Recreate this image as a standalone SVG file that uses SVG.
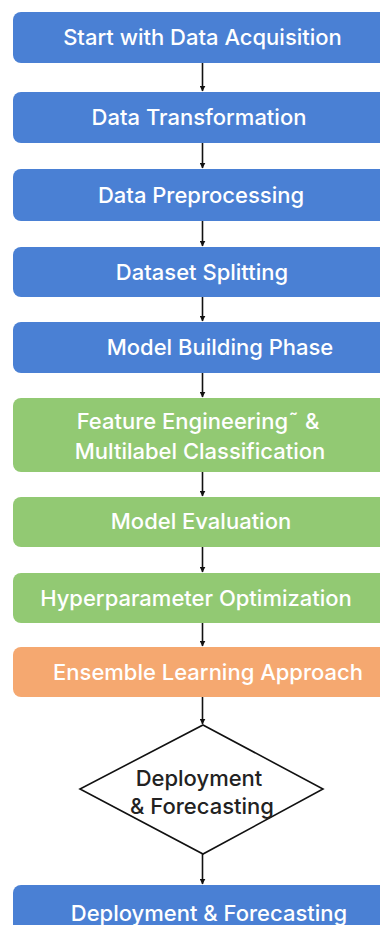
<svg xmlns="http://www.w3.org/2000/svg" width="380" height="925" viewBox="0 0 380 925">
  <defs>
    <marker id="arrow" viewBox="0 0 10 10" refX="9" refY="5" markerWidth="6" markerHeight="6" markerUnits="userSpaceOnUse" orient="auto">
      <path d="M0,0 L10,5 L0,10 z" fill="#111"/>
    </marker>
  </defs>
  <style>
    .box { stroke: none; }
    .blue { fill: #4a80d4; }
    .green { fill: #92c973; }
    .orange { fill: #f5a870; }
    .lbl { font-family: Inter, "Noto Sans", "DejaVu Sans", sans-serif; font-size: 22px; font-weight: 500; fill: #ffffff; text-anchor: middle; }
    .dlbl { font-family: Inter, "Noto Sans", "DejaVu Sans", sans-serif; font-size: 22px; font-weight: 500; fill: #222222; text-anchor: middle; }
    .edge { stroke: #111; stroke-width: 1.6; fill: none; marker-end: url(#arrow); }
    .diamond { fill: #ffffff; stroke: #111; stroke-width: 1.6; }
  </style>
  <rect width="380" height="925" fill="#ffffff"/>

  <!-- vertical flow arrows between the steps -->
  <g id="connectors">
    <line class="edge" x1="202.5" y1="63" x2="202.5" y2="91"/>
    <line class="edge" x1="202.5" y1="143" x2="202.5" y2="168"/>
    <line class="edge" x1="202.5" y1="221" x2="202.5" y2="246"/>
    <line class="edge" x1="202.5" y1="297" x2="202.5" y2="321"/>
    <line class="edge" x1="202.5" y1="373" x2="202.5" y2="397"/>
    <line class="edge" x1="202.5" y1="472" x2="202.5" y2="496"/>
    <line class="edge" x1="202.5" y1="547" x2="202.5" y2="572"/>
    <line class="edge" x1="202.5" y1="623" x2="202.5" y2="646"/>
    <line class="edge" x1="202.5" y1="697" x2="202.5" y2="724"/>
    <line class="edge" x1="202.5" y1="854" x2="202.5" y2="884"/>
  </g>

  <g id="data-acquisition">
    <rect class="box blue" x="13" y="12" width="390" height="51" rx="8"/>
    <text class="lbl" x="202.5" y="45">Start with Data Acquisition</text>
  </g>
  <g id="data-transformation">
    <rect class="box blue" x="13" y="92" width="390" height="51" rx="8"/>
    <text class="lbl" x="199" y="125">Data Transformation</text>
  </g>
  <g id="data-preprocessing">
    <rect class="box blue" x="13" y="169" width="390" height="52" rx="8"/>
    <text class="lbl" x="201" y="203">Data Preprocessing</text>
  </g>
  <g id="dataset-splitting">
    <rect class="box blue" x="13" y="247" width="390" height="50" rx="8"/>
    <text class="lbl" x="202" y="280">Dataset Splitting</text>
  </g>
  <g id="model-building">
    <rect class="box blue" x="13" y="322" width="390" height="51" rx="8"/>
    <text class="lbl" x="220" y="355">Model Building Phase</text>
  </g>
  <g id="feature-engineering">
    <rect class="box green" x="13" y="398" width="390" height="74" rx="8"/>
    <text class="lbl" x="198" y="429">Feature Engineering˜ &amp;</text>
    <text class="lbl" x="200" y="459">Multilabel Classification</text>
  </g>
  <g id="model-evaluation">
    <rect class="box green" x="13" y="497" width="390" height="50" rx="8"/>
    <text class="lbl" x="201" y="529">Model Evaluation</text>
  </g>
  <g id="hyperparameter-optimization">
    <rect class="box green" x="13" y="573" width="390" height="50" rx="8"/>
    <text class="lbl" x="196" y="606">Hyperparameter Optimization</text>
  </g>
  <g id="ensemble-learning">
    <rect class="box orange" x="13" y="647" width="390" height="50" rx="8"/>
    <text class="lbl" x="208" y="680">Ensemble Learning Approach</text>
  </g>
  <g id="deployment-decision">
    <polygon class="diamond" points="203,725 323,789 203,854 80,789"/>
    <text class="dlbl" x="199" y="786">Deployment</text>
    <text class="dlbl" x="202" y="814">&amp; Forecasting</text>
  </g>
  <g id="deployment-forecasting">
    <rect class="box blue" x="13" y="885" width="390" height="60" rx="8"/>
    <text class="lbl" x="209" y="921">Deployment &amp; Forecasting</text>
  </g>
</svg>
